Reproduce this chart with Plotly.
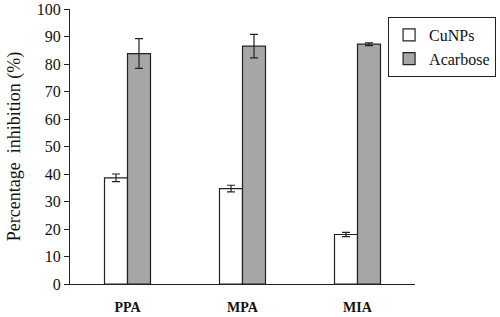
import plotly.graph_objects as go

categories = ["PPA", "MPA", "MIA"]
cunps = [38.6, 34.7, 18.0]
cunps_err = [1.4, 1.2, 0.8]
acarbose = [83.8, 86.5, 87.2]
acarbose_err = [5.4, 4.3, 0.5]
yticks = list(range(0, 101, 10))

font_family = "Liberation Serif, Times New Roman, serif"

fig = go.Figure()
fig.add_trace(go.Bar(
    x=categories, y=cunps, name="CuNPs",
    marker=dict(color="#ffffff", line=dict(color="#222222", width=1.2)),
    error_y=dict(type="data", array=cunps_err, color="#222222", thickness=1.2, width=4),
))
fig.add_trace(go.Bar(
    x=categories, y=acarbose, name="Acarbose",
    marker=dict(color="#a6a6a6", line=dict(color="#222222", width=1.2)),
    error_y=dict(type="data", array=acarbose_err, color="#222222", thickness=1.2, width=4),
))

fig.update_layout(
    width=500, height=317,
    margin=dict(l=70, r=85, t=9, b=33, autoexpand=False),
    paper_bgcolor="white", plot_bgcolor="white",
    barmode="group", bargap=0.6, bargroupgap=0,
    font=dict(family=font_family, color="#111111", size=13),
    showlegend=True,
    legend=dict(
        x=1.235, y=0.971, xanchor="right", yanchor="top",
        bordercolor="#222222", borderwidth=1, bgcolor="white",
        font=dict(size=16, family=font_family),
        tracegroupgap=2, itemwidth=30,
    ),
    xaxis=dict(
        showline=True, linecolor="#222222", linewidth=1.2,
        ticks="", showgrid=False, automargin=False,
        tickfont=dict(size=14, family=font_family, weight="bold"),
        ticklabelstandoff=10,
    ),
    yaxis=dict(
        range=[0, 100], tickvals=yticks, showline=True, linecolor="#222222",
        linewidth=1.2, ticks="outside", ticklen=5, tickcolor="#222222",
        showgrid=False, zeroline=False, automargin=False,
        tickfont=dict(size=16, family=font_family),
        title=dict(text="Percentage  inhibition (%)", font=dict(size=18, family=font_family), standoff=11),
    ),
)

fig.write_html(
    "out.html",
    config={"displayModeBar": False},
    post_script="document.body.style.margin='0';document.body.style.padding='0';",
)
